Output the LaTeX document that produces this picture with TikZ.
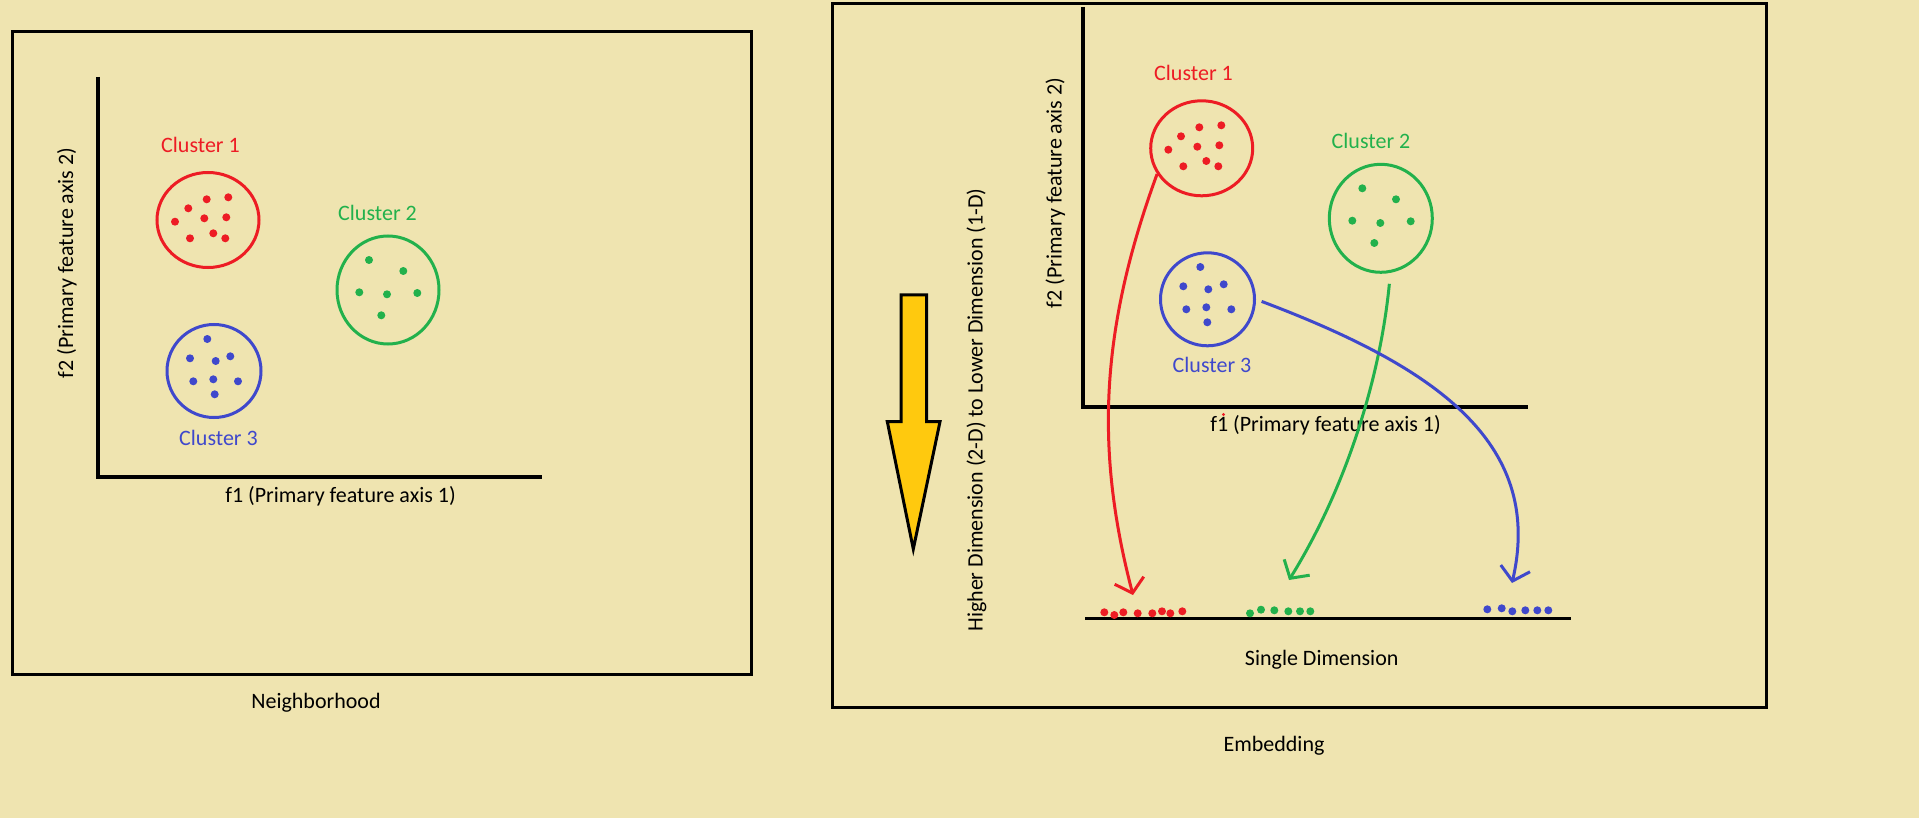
\documentclass[tikz,border=0pt]{standalone}
\usepackage{fontspec}
\setmainfont{Carlito}
\usetikzlibrary{arrows.meta, shapes.geometric}
\definecolor{paint-bg}{HTML}{EFE4B0}
\definecolor{paint-red}{HTML}{ED1C24}
\definecolor{paint-green}{HTML}{22B14C}
\definecolor{paint-blue}{HTML}{3F48CC}
\definecolor{paint-gold}{HTML}{FFC90E}

\begin{document}
\begin{tikzpicture}[x=1pt, y=-1pt,
      every node/.style={font=\fontsize{22}{26}\selectfont, inner sep=0pt},
      panel/.style={draw=black, line width=3pt},
      axis/.style={draw=black, line width=3.5pt},
      cluster/.style={ellipse, draw=#1, line width=3pt},
      label/.style={anchor=base, text=#1},
      map/.style={line width=3pt, -{Straight Barb[length=13pt, width=30pt]}}]
    \fill[paint-bg] (0,0) rectangle (1919,818);
    \useasboundingbox (0,0) rectangle (1919,818);

    % left panel: neighborhood
    \draw[panel] (12,32) rectangle (751,674);
    \draw[axis] (98,77) -- (98,477) -- (542,477);
    \node[label=black] (f1L) at (340.5,502) {f1 (Primary feature axis 1)};
    \node[label=black, rotate=90] (f2L) at (73,263) {f2 (Primary feature axis 2)};
    \node[label=black] (nbh) at (316,708) {Neighborhood};

    \node[cluster=paint-red, minimum width=102pt, minimum height=95pt] (lc1) at (208,220) {};
    \node[cluster=paint-green, minimum width=102pt, minimum height=108pt] (lc2) at (388,290) {};
    \node[cluster=paint-blue, minimum width=94pt, minimum height=93pt] (lc3) at (214,371) {};
    \node[label=paint-red] (lc1txt) at (200.5,153) {Cluster 1};
    \node[label=paint-green] (lc2txt) at (377.5,221) {Cluster 2};
    \node[label=paint-blue] (lc3txt) at (218.5,445) {Cluster 3};
    \foreach \x/\y in {206.7/199.3, 228.3/197.3, 188.3/208.3, 204.3/218.3, 226.3/217.3,
        175/221.7, 213.3/233.3, 190/238.3, 225.3/238.3}
      \fill[paint-red] (\x,\y) circle[radius=4pt];
    \foreach \x/\y in {369/260, 403.3/271, 359.3/292.3, 387/294.3, 417.3/293, 381.3/315.3}
      \fill[paint-green] (\x,\y) circle[radius=4pt];
    \foreach \x/\y in {207.3/339, 190/358.3, 215.7/361, 230.3/356.3, 193.3/381.3,
        213.3/379.3, 238/381.3, 214.7/394.3}
      \fill[paint-blue] (\x,\y) circle[radius=4pt];

    % right panel: embedding
    \draw[panel] (832,4) rectangle (1766,707);
    \draw[axis] (1083,7) -- (1083,407) -- (1528,407);
    \draw[line width=3pt] (1085,618) -- (1571,618);
    \node[label=black] (f1R) at (1325.5,431.7) {f1 (Primary feature axis 1)};
    \fill[paint-red] (1223.5,414.5) circle[radius=1.6pt];
    \node[label=black, rotate=90] (f2R) at (1061.5,193) {f2 (Primary feature axis 2)};
    \node[label=black, rotate=90] (hilo) at (982.5,410) {Higher Dimension (2-D) to Lower Dimension (1-D)};
    \node[label=black] (single) at (1321.7,665) {Single Dimension};
    \node[label=black] (emb) at (1274,751) {Embedding};

    \draw[fill=paint-gold, line width=3pt, line join=miter]
      (901,295) -- (926.7,295) -- (926.7,421.7) -- (940,421.7) -- (913.3,549)
      -- (887.3,421.7) -- (901,421.7) -- cycle;

    \node[cluster=paint-red, minimum width=102pt, minimum height=95pt] (rc1) at (1201.7,148.3) {};
    \node[cluster=paint-green, minimum width=103pt, minimum height=108pt] (rc2) at (1380.8,218.3) {};
    \node[cluster=paint-blue, minimum width=94pt, minimum height=93pt] (rc3) at (1207.5,299.3) {};
    \node[label=paint-red] (rc1txt) at (1193.5,81) {Cluster 1};
    \node[label=paint-green] (rc2txt) at (1371,149) {Cluster 2};
    \node[label=paint-blue] (rc3txt) at (1212,372.3) {Cluster 3};
    \foreach \x/\y in {1199.3/127.3, 1221.3/125.3, 1181/136.3, 1197.3/146.7, 1219.3/145.3,
        1168.3/149.7, 1206.3/161, 1183.3/166.3, 1218.3/166.3}
      \fill[paint-red] (\x,\y) circle[radius=4pt];
    \foreach \x/\y in {1362.3/188.3, 1396/199.3, 1352.3/220.7, 1380.3/223, 1410.7/221.3, 1374.3/243}
      \fill[paint-green] (\x,\y) circle[radius=4pt];
    \foreach \x/\y in {1200.3/267, 1183.3/286.3, 1208.3/289.3, 1223.7/284.3, 1186.3/309.3,
        1206.3/307.3, 1231.3/309.3, 1207.3/322.3}
      \fill[paint-blue] (\x,\y) circle[radius=4pt];

    % points on the single dimension
    \foreach \x/\y in {1104.3/612.3, 1114.3/615, 1123.3/612.3, 1137.7/613.3, 1152.3/613.3,
        1162/611.3, 1170.3/613.3, 1182.3/611.3}
      \fill[paint-red] (\x,\y) circle[radius=4pt];
    \foreach \x/\y in {1250/613.3, 1261/609.7, 1274.3/610.3, 1288.3/611.3, 1300/611.3, 1310.3/611.3}
      \fill[paint-green] (\x,\y) circle[radius=4pt];
    \foreach \x/\y in {1487.3/609.3, 1501.7/608.3, 1512.3/611.3, 1525.3/610.3, 1537.3/610.3, 1548.3/610.3}
      \fill[paint-blue] (\x,\y) circle[radius=4pt];

    \coordinate (red1d) at (1133,595);
    \coordinate (green1d) at (1289,580);
    \coordinate (blue1d) at (1512,583);
    \draw[map, paint-red] (rc1.210) .. controls (1100,330) and (1095,450) .. (red1d);
    \draw[map, paint-green, shorten <=11pt] (rc2.-80) .. controls (1380,380) and (1345,490) .. (green1d);
    \draw[map, paint-blue, shorten <=6pt] (rc3.east) .. controls (1430,365) and (1545,440) .. (blue1d);
  \end{tikzpicture}
\end{document}
